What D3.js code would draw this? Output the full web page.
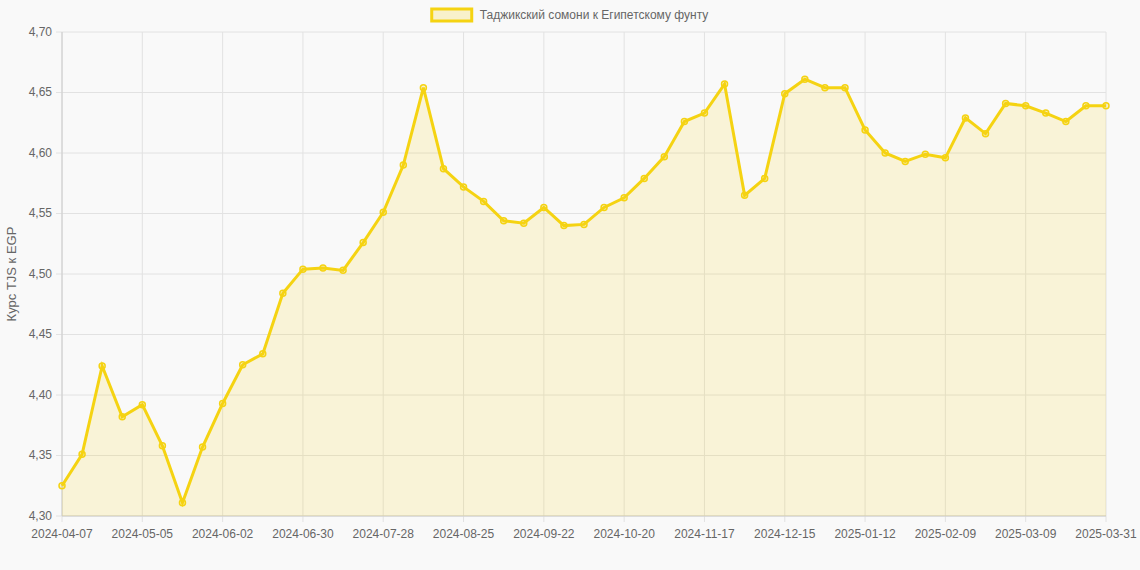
<!DOCTYPE html>
<html><head><meta charset="utf-8">
<script src="https://cdn.jsdelivr.net/npm/d3@7"></script>
<style>body{margin:0;background:#f9f9f9;font-family:"Helvetica Neue",Arial,"Liberation Sans",sans-serif}</style>
</head><body><div id="container"></div>
<script>
let dates = ["2024-04-07","2024-04-14","2024-04-21","2024-04-28","2024-05-05","2024-05-12","2024-05-19","2024-05-26",
  "2024-06-02","2024-06-09","2024-06-16","2024-06-23","2024-06-30","2024-07-07","2024-07-14","2024-07-21","2024-07-28",
  "2024-08-04","2024-08-11","2024-08-18","2024-08-25","2024-09-01","2024-09-08","2024-09-15","2024-09-22","2024-09-29",
  "2024-10-06","2024-10-13","2024-10-20","2024-10-27","2024-11-03","2024-11-10","2024-11-17","2024-11-24",
  "2024-12-01","2024-12-08","2024-12-15","2024-12-22","2024-12-29","2025-01-05","2025-01-12","2025-01-19","2025-01-26",
  "2025-02-02","2025-02-09","2025-02-16","2025-02-23","2025-03-02","2025-03-09","2025-03-16","2025-03-23","2025-03-30","2025-03-31"];
let rates = [4.325,4.351,4.424,4.382,4.392,4.358,4.311,4.357,4.393,4.425,4.434,4.484,4.504,4.505,4.503,4.526,4.551,
  4.590,4.654,4.587,4.572,4.560,4.544,4.542,4.555,4.540,4.541,4.555,4.563,4.579,4.597,4.626,4.633,4.657,4.565,4.579,
  4.649,4.661,4.654,4.654,4.619,4.600,4.593,4.599,4.596,4.629,4.616,4.641,4.639,4.633,4.626,4.639,4.639];
let yTicks = [4.30,4.35,4.40,4.45,4.50,4.55,4.60,4.65,4.70];
let seriesName = "Таджикский сомони к Египетскому фунту";
let yTitle = "Курс TJS к EGP";

let margin = {top: 32, right: 34, bottom: 54, left: 62};
let W = 1140, H = 570, width = W - margin.left - margin.right, height = H - margin.top - margin.bottom;
let lineColor = "#f5d312";

let svg = d3.select("#container").append("svg").attr("width", W).attr("height", H);
let g = svg.append("g").attr("transform", "translate(" + margin.left + "," + margin.top + ")");

let x = d3.scalePoint().domain(d3.range(dates.length)).range([0, width]);
let y = d3.scaleLinear().domain([4.30, 4.70]).range([height, 0]);

// grid
g.selectAll(".hgrid").data(yTicks).enter().append("line")
  .attr("x1", -6).attr("x2", width).attr("y1", d => y(d)).attr("y2", d => y(d))
  .style("stroke", "#e2e2e2");
let xTickIdx = d3.range(0, dates.length, 4);
g.selectAll(".vgrid").data(xTickIdx).enter().append("line")
  .attr("x1", d => x(d)).attr("x2", d => x(d)).attr("y1", 0).attr("y2", height + 6)
  .style("stroke", "#e2e2e2");
g.append("line").attr("x1", 0).attr("x2", 0).attr("y1", 0).attr("y2", height).style("stroke", "#ccc");
g.append("line").attr("x1", 0).attr("x2", width).attr("y1", height).attr("y2", height).style("stroke", "#ccc");

// labels
g.selectAll(".ylab").data(yTicks).enter().append("text")
  .attr("x", -10).attr("y", d => y(d)).attr("dy", ".32em").attr("text-anchor", "end")
  .style("font-size", "12px").style("fill", "#666").text(d => d.toFixed(2).replace(".", ","));
g.selectAll(".xlab").data(xTickIdx).enter().append("text")
  .attr("x", d => x(d)).attr("y", height + 22).attr("text-anchor", "middle")
  .style("font-size", "12px").style("fill", "#666").text(d => dates[d]);

svg.append("text").attr("transform", "translate(16," + (margin.top + height / 2) + ") rotate(-90)")
  .attr("text-anchor", "middle").style("font-size", "13px").style("fill", "#666").text(yTitle);

// area and line
g.append("path").datum(rates)
  .attr("d", d3.area().x((d, i) => x(i)).y0(height).y1(d => y(d)))
  .style("fill", "rgba(245,211,18,0.15)");
g.append("path").datum(rates)
  .attr("d", d3.line().x((d, i) => x(i)).y(d => y(d)))
  .style("fill", "none").style("stroke", lineColor).style("stroke-width", 3);
g.selectAll(".pt").data(rates).enter().append("circle")
  .attr("cx", (d, i) => x(i)).attr("cy", d => y(d)).attr("r", 3)
  .style("fill", "rgba(245,211,18,0.2)").style("stroke", lineColor).style("stroke-width", 1.5);

// legend
let legend = svg.append("g").attr("transform", "translate(" + (W / 2) + ",15)");
let lt = legend.append("text").attr("x", 0).attr("y", 0).attr("dy", ".32em")
  .style("font-size", "12px").style("fill", "#666").text(seriesName);
let tw = lt.node().getComputedTextLength();
let total = 40 + 8 + tw;
lt.attr("x", -total / 2 + 48);
legend.append("rect").attr("x", -total / 2).attr("y", -6).attr("width", 40).attr("height", 12)
  .style("fill", "rgba(245,211,18,0.2)").style("stroke", lineColor).style("stroke-width", 3);
</script></body></html>
